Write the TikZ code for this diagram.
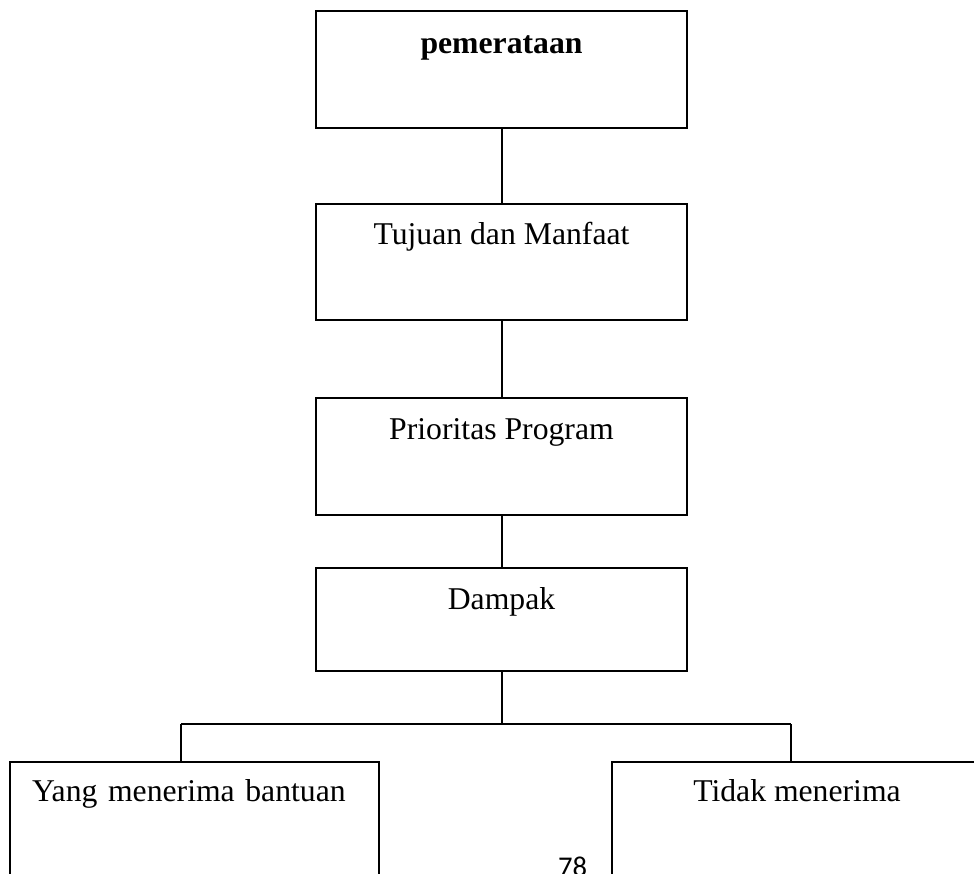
\documentclass[tikz,border=0pt]{standalone}
\usepackage{fontspec}
\setmainfont{Liberation Serif}
\newfontfamily\pagenumfont{Carlito}
\begin{document}
\begin{tikzpicture}[x=1pt,y=1pt,
  box/.style={draw=black, line width=2pt, rectangle, inner sep=0pt, anchor=north,
    minimum width=371pt, font=\fontsize{31.7}{38}\selectfont},
  conn/.style={draw=black, line width=2pt}]
\useasboundingbox (0,0) rectangle (974,-874);
\node[box, text height=43pt, text depth=74pt, font=\fontsize{31.7}{38}\selectfont\bfseries] (b1) at (501.5,-10) {pemerataan};
\node[box, text height=41pt, text depth=75pt] (b2) at (501.5,-203) {Tujuan dan Manfaat};
\node[box, text height=41pt, text depth=76pt] (b3) at (501.5,-397) {Prioritas Program};
\node[box, text height=41pt, text depth=62pt] (b4) at (501.5,-567) {Dampak};
\node[box, minimum width=369pt, text width=325pt, inner xsep=22pt, align=left,
  text height=39pt, text depth=110pt] (b5) at (194.5,-761) {Yang menerima bantuan};
\node[box, minimum width=370pt, text height=39pt, text depth=110pt] (b6) at (797,-761) {Tidak menerima};
\coordinate (jl) at (181,-724);
\coordinate (jr) at (791,-724);
\draw[conn] (b1.south) -- (b2.north);
\draw[conn] (b2.south) -- (b3.north);
\draw[conn] (b3.south) -- (b4.north);
\draw[conn] (b4.south) -- (b4.south |- jl);
\draw[conn] (jl) -- (jr);
\draw[conn] (jl) -- (jl |- b5.north);
\draw[conn] (jr) -- (jr |- b6.north);
\node[anchor=base, inner sep=0pt, font=\pagenumfont\fontsize{28.6}{34}\selectfont] (pg) at (572.5,-876) {78};
\end{tikzpicture}
\end{document}
